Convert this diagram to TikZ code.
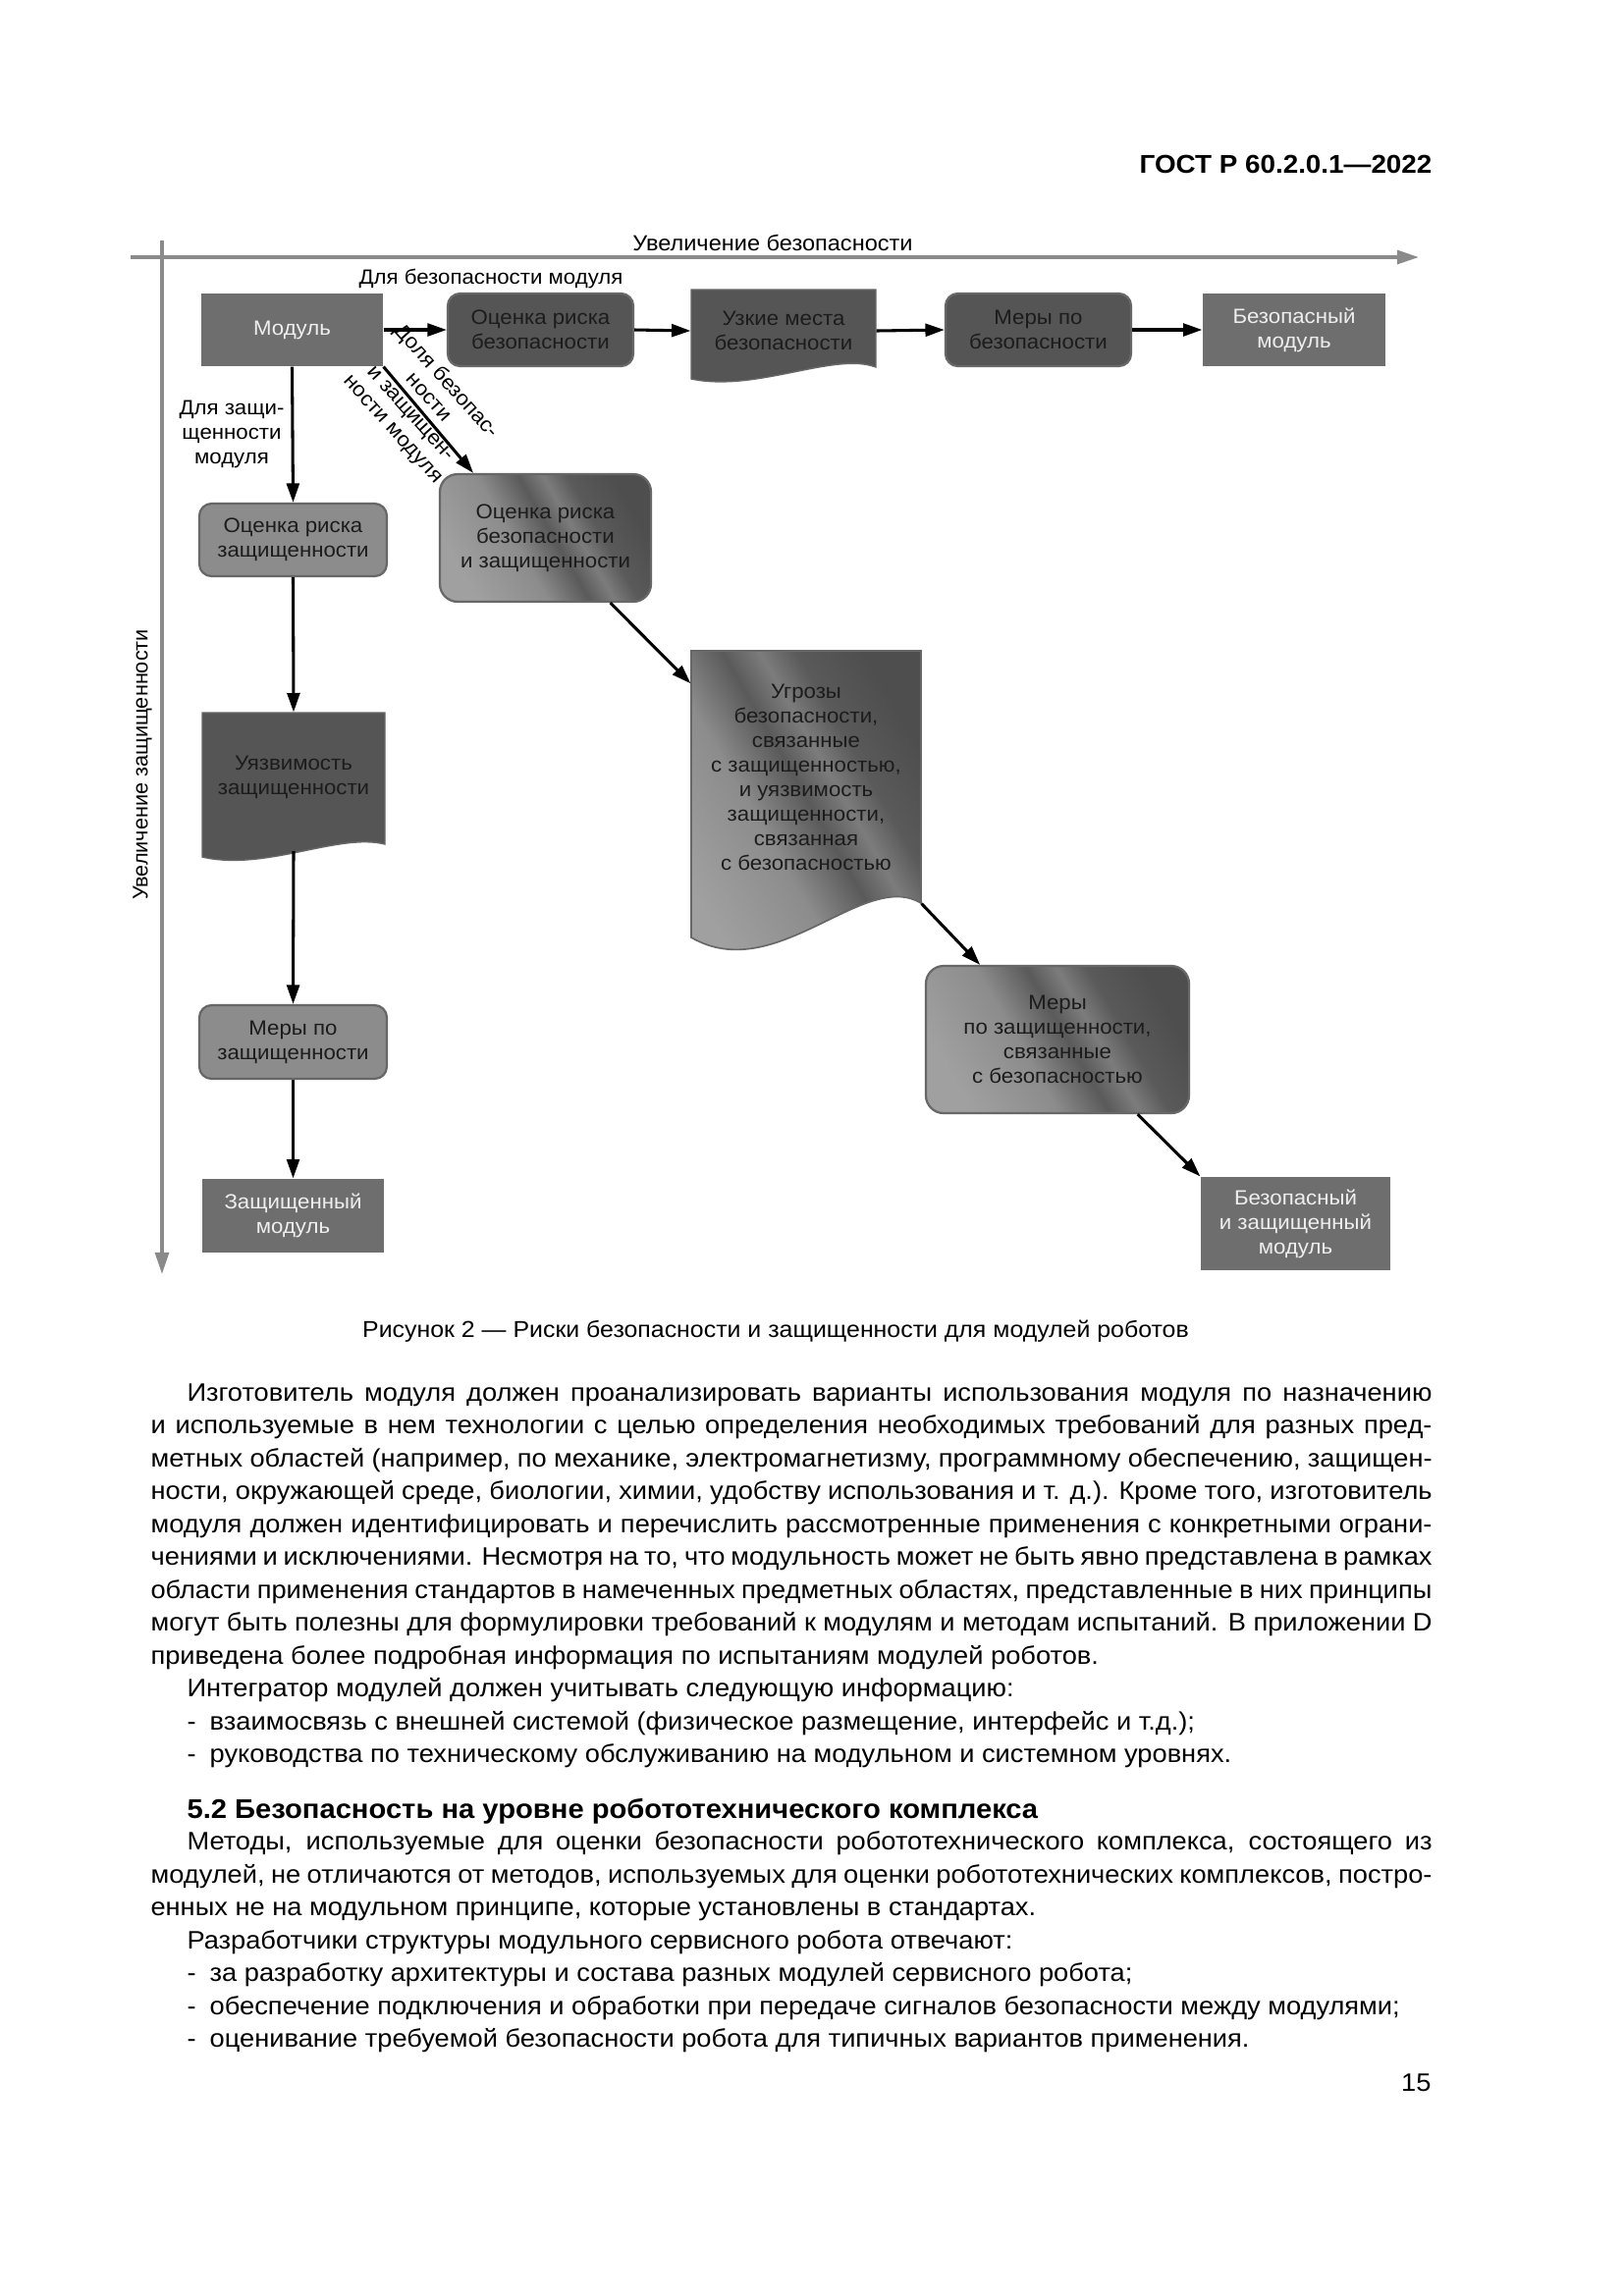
\documentclass[tikz,border=0pt]{standalone}
\usepackage{fontspec}
\setmainfont{Liberation Sans}[FakeStretch=1.06]
\newfontfamily\plainfont{Liberation Sans}
\usetikzlibrary{arrows.meta}
\definecolor{cMod}{HTML}{6E6E6E}
\definecolor{cDark}{HTML}{555555}
\definecolor{cLight}{HTML}{8C8C8C}
\definecolor{cBord}{HTML}{676767}
\definecolor{cAxis}{HTML}{8A8A8A}
\definecolor{cTxtD}{HTML}{1C1C1C}
\definecolor{cTxtL}{HTML}{EEEEEE}
\definecolor{gA}{HTML}{A0A0A0}
\definecolor{gB}{HTML}{8C8C8C}
\definecolor{gC}{HTML}{5A5A5A}
\definecolor{gD}{HTML}{7C7C7C}
\definecolor{gE}{HTML}{4E4E4E}
\pgfdeclarehorizontalshading{gshade}{100bp}{color(0bp)=(gA); color(25bp)=(gA); color(42bp)=(gB); color(52bp)=(gC); color(58bp)=(gD); color(64bp)=(gC); color(75bp)=(gE); color(100bp)=(gE)}
\newdimen\pxu \pxu=0.3599pt
\newcommand\jline[2]{\hbox to #1\pxu{\spaceskip=0.278em plus 0.6em minus 0.1em\relax #2}}
\newcommand\dsh{-\hspace{0.55em}}
\tikzset{
  boxtext/.style={font=\fontsize{7.55}{9}\selectfont, align=center, inner sep=0pt, text=cTxtD},
  sqbox/.style={boxtext, fill=cMod, text=cTxtL},
  rbox/.style={boxtext, rounded corners=4.5pt, draw=cBord, line width=0.8pt},
  darkbox/.style={rbox, fill=cDark},
  lightbox/.style={rbox, fill=cLight},
  gbox/.style={boxtext, rounded corners=6.5pt, draw=cBord, line width=0.8pt, shading=gshade, shading angle=30},
  docfill/.style={fill=cDark, draw=cBord, line width=0.5pt},
  docgrad/.style={shading=gshade, shading angle=30, draw=cBord, line width=0.6pt},
  conn/.style={draw=black, line width=1.1pt, -{Triangle[length=7pt,width=4.6pt]}},
  axisline/.style={draw=cAxis, line width=1.3pt, -{Triangle[length=8pt,width=5pt]}, color=cAxis},
  lab/.style={font=\fontsize{7.55}{9}\selectfont, align=center, inner sep=0pt},
  axlab/.style={font=\fontsize{8}{10}\selectfont, inner sep=0pt},
  bodyt/.style={font=\fontsize{9.25}{12}\selectfont, inner sep=0pt, anchor=mid west},
}
\begin{document}
\begin{tikzpicture}[x=0.3599pt, y=-0.3599pt]
\useasboundingbox (0,0) rectangle (1654,2339);
\fill[white] (0,0) rectangle (1654,2339);

% header
\node[font=\bfseries\fontsize{9.45}{12}\selectfont, inner sep=0pt, anchor=east] (hdr) at (1459,167) {ГОСТ Р 60.2.0.1—2022};

% axes
\coordinate (hx0) at (133,262);
\coordinate (hx1) at (1445,262);
\coordinate (vy0) at (165,245);
\coordinate (vy1) at (165,1298);
\draw[axisline] (hx0) -- (hx1);
\draw[axisline] (vy0) -- (vy1);
\node[axlab] (axh) at (787,247) {Увеличение безопасности};
\node[inner sep=0pt, font=\plainfont\fontsize{7.8}{10}\selectfont, rotate=90] (axv) at (145,779) {Увеличение защищенности};

\node[lab] (lbs) at (500,284) {Для безопасности модуля};

% document shapes (fills)
\path[docfill] (704,295) -- (892,295) -- (892,374) .. controls (850,358) and (770,400) .. (704,386) -- cycle;
\path[docfill] (206,726) -- (392,726) -- (392,860) .. controls (345,848) and (270,888) .. (206,873) -- cycle;
\path[docgrad] (704,663) -- (938,663) -- (938,920) .. controls (880,885) and (790,1005) .. (704,955) -- cycle;

% top row
\node[sqbox, minimum width=185\pxu, minimum height=74\pxu] (mod) at (297.5,336) {Модуль};
\node[darkbox, minimum width=189\pxu, minimum height=74\pxu] (orb) at (550.5,336) {Оценка риска\\безопасности};
\node[boxtext, minimum width=188\pxu, minimum height=84\pxu] (uzk) at (798,337) {Узкие места\\безопасности};
\node[darkbox, minimum width=189\pxu, minimum height=74\pxu] (mb) at (1057.5,336) {Меры по\\безопасности};
\node[sqbox, minimum width=186\pxu, minimum height=74\pxu] (bm) at (1318,336) {Безопасный\\модуль};

% left column
\node[lightbox, minimum width=191\pxu, minimum height=74\pxu] (orz) at (298.5,550) {Оценка риска\\защищенности};
\node[boxtext, minimum width=186\pxu, minimum height=132\pxu] (uyz) at (299,792) {Уязвимость\\защищенности};
\coordinate (uyzout) at (299,867);
\node[lightbox, minimum width=191\pxu, minimum height=75\pxu] (mz1) at (298.5,1061.5) {Меры по\\защищенности};
\node[sqbox, minimum width=185\pxu, minimum height=75\pxu] (zm) at (298.5,1238.5) {Защищенный\\модуль};
\node[lab] (lbz) at (236,442) {Для защи-\\щенности\\модуля};

% diagonal
\node[gbox, minimum width=215\pxu, minimum height=130\pxu] (orbz) at (555.5,548) {Оценка риска\\безопасности\\и защищенности};
\node[boxtext, minimum width=234\pxu, minimum height=257\pxu] (ug) at (821,791.5) {Угрозы\\безопасности,\\связанные\\с защищенностью,\\и уязвимость\\защищенности,\\связанная\\с безопасностью};
\node[gbox, minimum width=268\pxu, minimum height=150\pxu] (mz) at (1077,1059) {Меры\\по защищенности,\\связанные\\с безопасностью};
\node[sqbox, minimum width=193\pxu, minimum height=95\pxu] (fin) at (1319.5,1246.5) {Безопасный\\и защищенный\\модуль};
\node[lab, font=\fontsize{7.55}{8.7}\selectfont, rotate=-48] (lbd) at (427,413) {Доля безопас-\\ности\\и защищен-\\ности модуля};

% connectors
\draw[conn] (mod.east) -- (orb.west);
\draw[conn] (orb.east) -- (uzk.west);
\draw[conn] (uzk.east) -- (mb.west);
\draw[conn] (mb.east) -- (bm.west);
\draw[conn] (mod.south) -- (orz.north);
\draw[conn] (orz.south) -- (uyz.north);
\draw[conn] (uyzout) -- (mz1.north);
\draw[conn] (mz1.south) -- (zm.north);
\draw[conn] (mod.south east) -- (orbz.138);
\draw[conn] (orbz.-45) -- (ug.141);
\draw[conn] (ug.south east) -- (mz.136);
\draw[conn] (mz.-43) -- (fin.north west);

% caption
\node[font=\fontsize{8.45}{11}\selectfont, inner sep=0pt] (cap) at (790,1356) {Рисунок 2 — Риски безопасности и защищенности для модулей роботов};

% body text
\node[bodyt] (t1) at (190,1420) {\jline{1268}{Изготовитель модуля должен проанализировать варианты использования модуля по назначению}};
\node[bodyt] (t2) at (153,1453.5) {\jline{1305}{и используемые в нем технологии с целью определения необходимых требований для разных пред-}};
\node[bodyt] (t3) at (153,1487) {\jline{1305}{метных областей (например, по механике, электромагнетизму, программному обеспечению, защищен-}};
\node[bodyt] (t4) at (153,1520.5) {\jline{1305}{ности, окружающей среде, биологии, химии, удобству использования и т. д.). Кроме того, изготовитель}};
\node[bodyt] (t5) at (153,1554) {\jline{1305}{модуля должен идентифицировать и перечислить рассмотренные применения с конкретными ограни-}};
\node[bodyt] (t6) at (153,1587.5) {\jline{1305}{чениями и исключениями. Несмотря на то, что модульность может не быть явно представлена в рамках}};
\node[bodyt] (t7) at (153,1621) {\jline{1305}{области применения стандартов в намеченных предметных областях, представленные в них принципы}};
\node[bodyt] (t8) at (153,1654.5) {\jline{1305}{могут быть полезны для формулировки требований к модулям и методам испытаний. В приложении D}};
\node[bodyt] (t9) at (153,1688) {приведена более подробная информация по испытаниям модулей роботов.};
\node[bodyt] (t10) at (190,1721.5) {Интегратор модулей должен учитывать следующую информацию:};
\node[bodyt] (t11) at (190,1755) {\dsh взаимосвязь с внешней системой (физическое размещение, интерфейс и т.д.);};
\node[bodyt] (t12) at (190,1788.5) {\dsh руководства по техническому обслуживанию на модульном и системном уровнях.};
\node[bodyt, font=\bfseries\fontsize{9.9}{12}\selectfont] (h52) at (190,1845) {5.2 Безопасность на уровне робототехнического комплекса};
\node[bodyt] (t13) at (190,1877.5) {\jline{1268}{Методы, используемые для оценки безопасности робототехнического комплекса, состоящего из}};
\node[bodyt] (t14) at (153,1911) {\jline{1305}{модулей, не отличаются от методов, используемых для оценки робототехнических комплексов, постро-}};
\node[bodyt] (t15) at (153,1944.5) {енных не на модульном принципе, которые установлены в стандартах.};
\node[bodyt] (t16) at (190,1978) {Разработчики структуры модульного сервисного робота отвечают:};
\node[bodyt] (t17) at (190,2011.5) {\dsh за разработку архитектуры и состава разных модулей сервисного робота;};
\node[bodyt] (t18) at (190,2045) {\dsh обеспечение подключения и обработки при передаче сигналов безопасности между модулями;};
\node[bodyt] (t19) at (190,2078.5) {\dsh оценивание требуемой безопасности робота для типичных вариантов применения.};
\node[bodyt, anchor=mid east] (pg) at (1458,2123.5) {15};
\end{tikzpicture}
\end{document}
